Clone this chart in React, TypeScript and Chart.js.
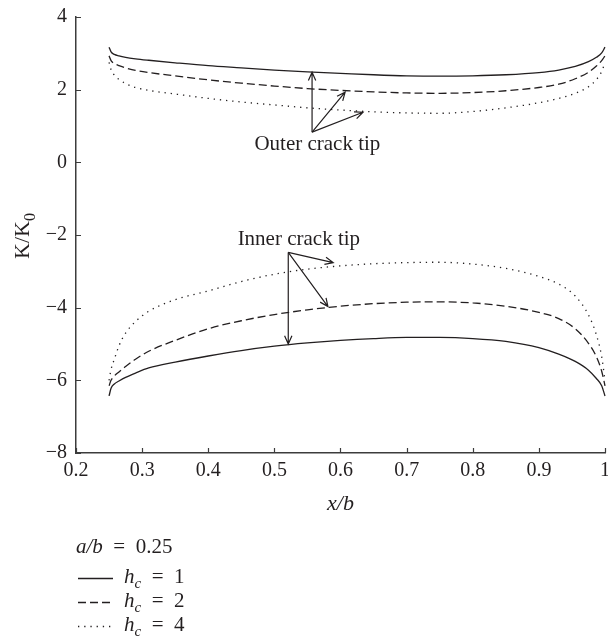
import React, { useEffect, useRef } from "react";
import { Chart, registerables } from "chart.js";

Chart.register(...registerables);

// ---- data ----
const X_VALUES = [0.25, 0.253, 0.258, 0.265, 0.275, 0.29, 0.31, 0.35, 0.4, 0.45, 0.5, 0.55, 0.6, 0.65, 0.7, 0.75, 0.8, 0.85, 0.9, 0.93, 0.955, 0.975, 0.987, 0.995, 1.0];

// outer crack tip
const OUTER_HC1 = [3.17, 3.04, 2.97, 2.93, 2.89, 2.85, 2.81, 2.74, 2.66, 2.6, 2.54, 2.49, 2.45, 2.41, 2.38, 2.37, 2.38, 2.41, 2.47, 2.54, 2.64, 2.77, 2.89, 3.01, 3.17];
const OUTER_HC2 = [2.93, 2.8, 2.72, 2.66, 2.6, 2.53, 2.47, 2.38, 2.27, 2.18, 2.1, 2.03, 1.98, 1.94, 1.91, 1.9, 1.92, 1.97, 2.06, 2.15, 2.3, 2.48, 2.65, 2.8, 2.93];
const OUTER_HC4 = [2.75, 2.55, 2.4, 2.28, 2.17, 2.06, 1.98, 1.88, 1.76, 1.66, 1.58, 1.5, 1.44, 1.39, 1.36, 1.35, 1.4, 1.5, 1.64, 1.76, 1.9, 2.08, 2.28, 2.5, 2.75];

// inner crack tip
const INNER_HC1 = [-6.43, -6.22, -6.1, -6.02, -5.92, -5.8, -5.66, -5.5, -5.33, -5.18, -5.06, -4.97, -4.9, -4.85, -4.82, -4.82, -4.85, -4.93, -5.1, -5.28, -5.48, -5.72, -5.95, -6.15, -6.43];
const INNER_HC2 = [-6.15, -6.0, -5.88, -5.77, -5.62, -5.42, -5.2, -4.9, -4.58, -4.36, -4.19, -4.06, -3.96, -3.89, -3.85, -3.84, -3.87, -3.96, -4.13, -4.3, -4.58, -4.98, -5.35, -5.75, -6.15];
const INNER_HC4 = [-6.0, -5.7, -5.42, -5.05, -4.7, -4.38, -4.1, -3.78, -3.54, -3.28, -3.08, -2.94, -2.85, -2.79, -2.76, -2.75, -2.8, -2.92, -3.14, -3.35, -3.68, -4.2, -4.75, -5.35, -6.0];

const X_TICKS = [0.2, 0.3, 0.4, 0.5, 0.6, 0.7, 0.8, 0.9, 1.0];
const Y_TICKS = [-8, -6, -4, -2, 0, 2, 4];

const HC_VALUES = ["1", "2", "4"];
const ASPECT_LABEL = "0.25";

// annotation anchors (data coordinates)
const OUTER_TEXT = "Outer crack tip";
const OUTER_TEXT_AT = [0.565, 0.52];
const OUTER_BASE = [0.557, 0.83];
const OUTER_TIPS = [[0.557, 2.48], [0.607, 1.93], [0.634, 1.38]];

const INNER_TEXT = "Inner crack tip";
const INNER_TEXT_AT = [0.537, -2.07];
const INNER_BASE = [0.521, -2.48];
const INNER_TIPS = [[0.589, -2.76], [0.581, -3.97], [0.521, -5.0]];

// ---- styles ----
const FONT = '"Liberation Serif", "Times New Roman", serif';
const INK = "#231f20";
const AXIS = "#3c3c3c";
const DASHES: number[][] = [[], [8, 4], [1.3, 4.9]];
const EQ = "\u2002=\u2002";

type Seg = { t: string; italic?: boolean; sub?: boolean };

function drawRich(ctx: CanvasRenderingContext2D, segs: Seg[], x: number, y: number, size: number, align: "left" | "center" = "left") {
  const fontFor = (s: Seg) => `${s.italic ? "italic " : ""}${s.sub ? Math.round(size * 0.72) : size}px ${FONT}`;
  let total = 0;
  segs.forEach((s) => {
    ctx.font = fontFor(s);
    total += ctx.measureText(s.t).width;
  });
  let cx = align === "center" ? x - total / 2 : x;
  ctx.textBaseline = "alphabetic";
  ctx.textAlign = "left";
  segs.forEach((s) => {
    ctx.font = fontFor(s);
    ctx.fillText(s.t, cx, s.sub ? y + size * 0.25 : y);
    cx += ctx.measureText(s.t).width;
  });
}

function arrow(ctx: CanvasRenderingContext2D, x1: number, y1: number, x2: number, y2: number) {
  const a = Math.atan2(y2 - y1, x2 - x1);
  const L = 9;
  const w = 0.42;
  ctx.beginPath();
  ctx.moveTo(x1, y1);
  ctx.lineTo(x2, y2);
  ctx.moveTo(x2 - L * Math.cos(a - w), y2 - L * Math.sin(a - w));
  ctx.lineTo(x2, y2);
  ctx.lineTo(x2 - L * Math.cos(a + w), y2 - L * Math.sin(a + w));
  ctx.stroke();
}

const decorPlugin = {
  id: "decor",
  afterDraw(chart: any) {
    const ctx: CanvasRenderingContext2D = chart.ctx;
    const xs = chart.scales.x;
    const ys = chart.scales.y;
    const { left, right, bottom } = chart.chartArea;
    const px = (p: number[]) => [xs.getPixelForValue(p[0]), ys.getPixelForValue(p[1])];
    ctx.save();

    // inward tick marks
    ctx.strokeStyle = AXIS;
    ctx.lineWidth = 1.2;
    ctx.beginPath();
    X_TICKS.forEach((v) => {
      const x = Math.round(xs.getPixelForValue(v)) + 0.5;
      ctx.moveTo(x, bottom);
      ctx.lineTo(x, bottom - 5);
    });
    Y_TICKS.forEach((v) => {
      const y = Math.round(ys.getPixelForValue(v)) + 0.5;
      ctx.moveTo(left, y);
      ctx.lineTo(left + 5, y);
    });
    ctx.stroke();

    // annotation arrows
    ctx.strokeStyle = INK;
    ctx.lineWidth = 1.2;
    ctx.setLineDash([]);
    const ob = px(OUTER_BASE);
    OUTER_TIPS.forEach((t) => {
      const p = px(t);
      arrow(ctx, ob[0], ob[1], p[0], p[1]);
    });
    const ib = px(INNER_BASE);
    INNER_TIPS.forEach((t) => {
      const p = px(t);
      arrow(ctx, ib[0], ib[1], p[0], p[1]);
    });

    ctx.fillStyle = INK;
    const ot = px(OUTER_TEXT_AT);
    drawRich(ctx, [{ t: OUTER_TEXT }], ot[0], ot[1] + 7, 21, "center");
    const it = px(INNER_TEXT_AT);
    drawRich(ctx, [{ t: INNER_TEXT }], it[0], it[1] + 7, 21, "center");

    // axis titles
    drawRich(ctx, [{ t: "x/b", italic: true }], (left + right) / 2, 510, 22, "center");
    ctx.save();
    ctx.translate(29, 236);
    ctx.rotate(-Math.PI / 2);
    drawRich(ctx, [{ t: "K/K" }, { t: "0", sub: true }], 0, 0, 22, "center");
    ctx.restore();

    // legend
    const lx = 76;
    drawRich(ctx, [{ t: "a/b", italic: true }, { t: EQ + ASPECT_LABEL }], lx, 553, 21);
    HC_VALUES.forEach((h, i) => {
      const y = 578 + i * 24;
      ctx.strokeStyle = INK;
      ctx.lineWidth = 1.3;
      ctx.setLineDash(DASHES[i]);
      ctx.beginPath();
      ctx.moveTo(78, y + 0.5);
      ctx.lineTo(113, y + 0.5);
      ctx.stroke();
      ctx.setLineDash([]);
      drawRich(ctx, [{ t: "h", italic: true }, { t: "c", italic: true, sub: true }, { t: EQ + h }], 124, y + 5, 21);
    });

    ctx.restore();
  },
};

export default function App() {
  const ref = useRef<HTMLCanvasElement | null>(null);

  useEffect(() => {
    const canvas = ref.current;
    if (!canvas) return;
    const mk = (ys: number[], i: number) => ({
      data: X_VALUES.map((x, k) => ({ x, y: ys[k] })),
      showLine: true,
      borderColor: INK,
      borderWidth: 1.3,
      borderDash: DASHES[i],
      pointRadius: 0,
      fill: false,
      clip: false as any,
      cubicInterpolationMode: "monotone" as const,
    });
    const chart = new Chart(canvas, {
      type: "scatter",
      data: {
        datasets: [
          mk(OUTER_HC1, 0),
          mk(OUTER_HC2, 1),
          mk(OUTER_HC4, 2),
          mk(INNER_HC1, 0),
          mk(INNER_HC2, 1),
          mk(INNER_HC4, 2),
        ],
      },
      options: {
        responsive: false,
        animation: false,
        devicePixelRatio: 1,
        layout: { padding: { top: 17, right: 3, left: 0, bottom: 0 } },
        plugins: { legend: { display: false }, tooltip: { enabled: false } },
        scales: {
          x: {
            type: "linear",
            min: 0.2,
            max: 1,
            afterBuildTicks: (s: any) => {
              s.ticks = X_TICKS.map((v) => ({ value: v }));
            },
            afterFit: (s: any) => {
              s.height = 188;
              s.paddingLeft = 0;
              s.paddingRight = 0;
            },
            grid: { display: false, drawTicks: false },
            border: { display: true, color: AXIS, width: 1.5 },
            ticks: {
              padding: 6,
              color: INK,
              maxRotation: 0,
              autoSkip: false,
              font: { family: FONT, size: 20 },
              callback: (v: any) => (Math.abs(Number(v) - 1) < 1e-9 ? "1" : Number(v).toFixed(1)),
            },
          },
          y: {
            type: "linear",
            min: -8,
            max: 4,
            afterBuildTicks: (s: any) => {
              s.ticks = Y_TICKS.map((v) => ({ value: v }));
            },
            afterFit: (s: any) => {
              s.width = 76;
              s.paddingTop = 0;
              s.paddingBottom = 0;
            },
            grid: { display: false, drawTicks: false },
            border: { display: true, color: AXIS, width: 1.5 },
            ticks: {
              padding: 9,
              color: INK,
              autoSkip: false,
              font: { family: FONT, size: 20 },
              callback: (v: any) => (Number(v) < 0 ? "\u2212" + String(-Number(v)) : String(v)),
            },
          },
        },
      },
      plugins: [decorPlugin],
    });
    return () => chart.destroy();
  }, []);

  return (
    <div style={{ position: "absolute", left: 0, top: 0, width: 608, height: 641, background: "#fff" }}>
      <canvas ref={ref} width={608} height={641} style={{ display: "block" }} />
    </div>
  );
}
